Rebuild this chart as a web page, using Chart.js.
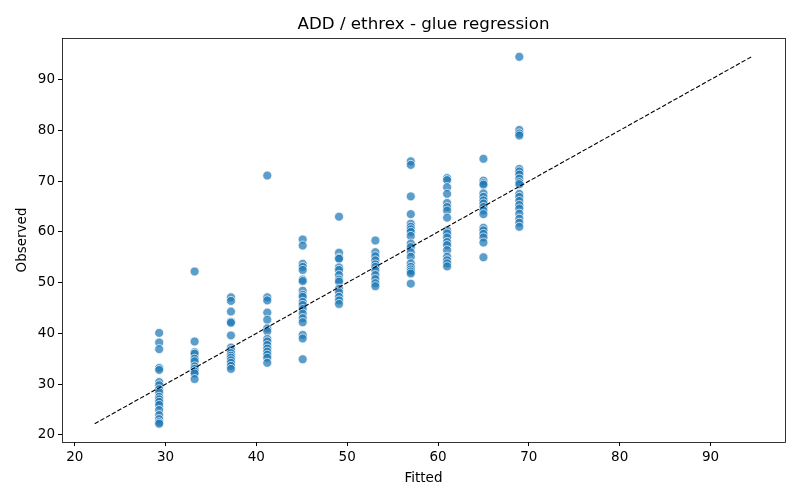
<!DOCTYPE html>
<html>
<head>
<meta charset="utf-8">
<script src="https://cdn.jsdelivr.net/npm/chart.js@4/dist/chart.umd.min.js"></script>
<style>
html,body{margin:0;padding:0;background:#fff;}
#wrap{width:800px;height:500px;}
</style>
</head>
<body>
<div id="wrap"><canvas id="c" width="800" height="500"></canvas></div>
<script>
const fittedLevels = [29.3, 33.2, 37.2, 41.2, 45.1, 49.1, 53.1, 57.0, 61.0, 65.0, 68.95];
const observedByLevel = [
  [40.1, 38.2, 36.9, 33.2, 32.8, 30.4, 29.8, 29.0, 28.4, 27.5, 27.0, 26.5, 25.9, 24.9, 23.9, 23.1, 22.5, 22.2],
  [52.2, 38.4, 36.3, 36.0, 35.0, 34.5, 33.5, 33.0, 32.5, 32.1, 31.0],
  [47.1, 46.4, 44.3, 42.3, 42.1, 39.6, 37.2, 36.7, 36.1, 35.6, 35.2, 34.7, 34.2, 33.6, 33.0],
  [71.1, 47.1, 46.5, 44.1, 42.7, 41.0, 40.4, 38.9, 38.4, 37.7, 37.0, 36.4, 35.8, 35.2, 34.2],
  [58.5, 57.3, 53.7, 53.1, 52.5, 50.6, 50.3, 48.4, 47.6, 47.2, 46.2, 45.6, 44.8, 43.9, 43.0, 42.2, 39.7, 39.0, 34.9],
  [63.0, 55.9, 54.9, 54.7, 53.0, 52.5, 51.5, 50.6, 50.2, 48.8, 48.1, 47.2, 46.5, 45.8],
  [58.3, 56.0, 55.2, 54.4, 53.6, 53.1, 52.4, 51.5, 50.7, 49.9, 49.3],
  [73.9, 73.2, 67.0, 63.5, 61.6, 61.0, 60.5, 60.0, 59.2, 57.7, 57.0, 56.0, 55.1, 53.8, 53.1, 52.6, 52.2, 51.8, 49.8],
  [70.6, 70.2, 68.8, 67.5, 65.7, 64.9, 64.2, 62.8, 60.3, 59.7, 58.9, 58.0, 57.4, 56.4, 55.1, 54.4, 53.8, 53.2],
  [74.4, 70.1, 69.6, 69.3, 67.6, 66.9, 66.2, 65.6, 64.9, 64.2, 63.5, 60.8, 60.3, 59.6, 58.9, 57.9, 55.0],
  [94.5, 80.1, 79.4, 79.0, 72.4, 71.9, 71.3, 70.5, 69.8, 69.4, 67.5, 66.9, 66.1, 65.3, 64.6, 63.6, 62.6, 61.8, 61.0]
];
const refLine = [22.2, 94.6];
const tickValues = [20, 30, 40, 50, 60, 70, 80, 90];
const titleText = 'ADD / ethrex - glue regression';
const xLabel = 'Fitted';
const yLabel = 'Observed';

const points = [];
fittedLevels.forEach((fx, i) => observedByLevel[i].forEach(v => points.push({x: fx, y: v})));
const linePts = refLine.map(v => ({x: v, y: v}));

const FONT = "'DejaVu Sans', sans-serif";

const frame = {
  id: 'frame',
  afterDraw(chart) {
    const a = chart.chartArea, ctx = chart.ctx;
    ctx.save();
    ctx.strokeStyle = '#000';
    ctx.lineWidth = 0.8;
    ctx.strokeRect(Math.round(a.left) + 0.5, Math.round(a.top) + 0.5, Math.round(a.right - a.left), Math.round(a.bottom - a.top));
    ctx.restore();
  }
};

function fixTicks(scale) { scale.ticks = tickValues.map(v => ({value: v})); }

new Chart(document.getElementById('c'), {
  data: {
    datasets: [
      {
        type: 'scatter',
        data: points,
        order: 1,
        backgroundColor: 'rgba(31,119,180,0.72)',
        borderColor: '#ffffff',
        borderWidth: 0.7,
        pointRadius: 4.5,
        pointHoverRadius: 4.5
      },
      {
        type: 'line',
        data: linePts,
        order: 0,
        borderColor: '#000',
        borderWidth: 1.1,
        borderDash: [4.5, 2],
        pointRadius: 0,
        fill: false
      }
    ]
  },
  options: {
    responsive: false,
    animation: false,
    devicePixelRatio: 1,
    layout: {padding: {top: 5, right: 15, left: 8, bottom: 8}},
    plugins: {
      legend: {display: false},
      tooltip: {enabled: false},
      title: {
        display: true,
        text: titleText,
        fullSize: false,
        color: '#000',
        font: {family: FONT, size: 16.7, weight: 'normal'},
        padding: {top: 10, bottom: 3}
      }
    },
    scales: {
      x: {
        type: 'linear',
        min: 18.6, max: 98.2,
        afterBuildTicks: fixTicks,
        afterFit(s) { s.height = 50; },
        grid: {display: true, drawOnChartArea: false, drawTicks: true, tickLength: 4, color: '#000', tickColor: '#000'},
        border: {display: false},
        ticks: {color: '#000', font: {family: FONT, size: 13.5}, padding: 3, maxRotation: 0},
        title: {display: true, text: xLabel, color: '#000', font: {family: FONT, size: 13.5}, padding: {top: 0, bottom: 5}}
      },
      y: {
        type: 'linear',
        min: 18.6, max: 98.2,
        afterBuildTicks: fixTicks,
        afterFit(s) { s.width = 54; },
        grid: {display: true, drawOnChartArea: false, drawTicks: true, tickLength: 4, color: '#000', tickColor: '#000'},
        border: {display: false},
        ticks: {color: '#000', font: {family: FONT, size: 13.5}, padding: 3},
        title: {display: true, text: yLabel, color: '#000', font: {family: FONT, size: 13.5}, padding: {top: 6, bottom: 0}}
      }
    }
  },
  plugins: [frame]
});
</script>
</body>
</html>
